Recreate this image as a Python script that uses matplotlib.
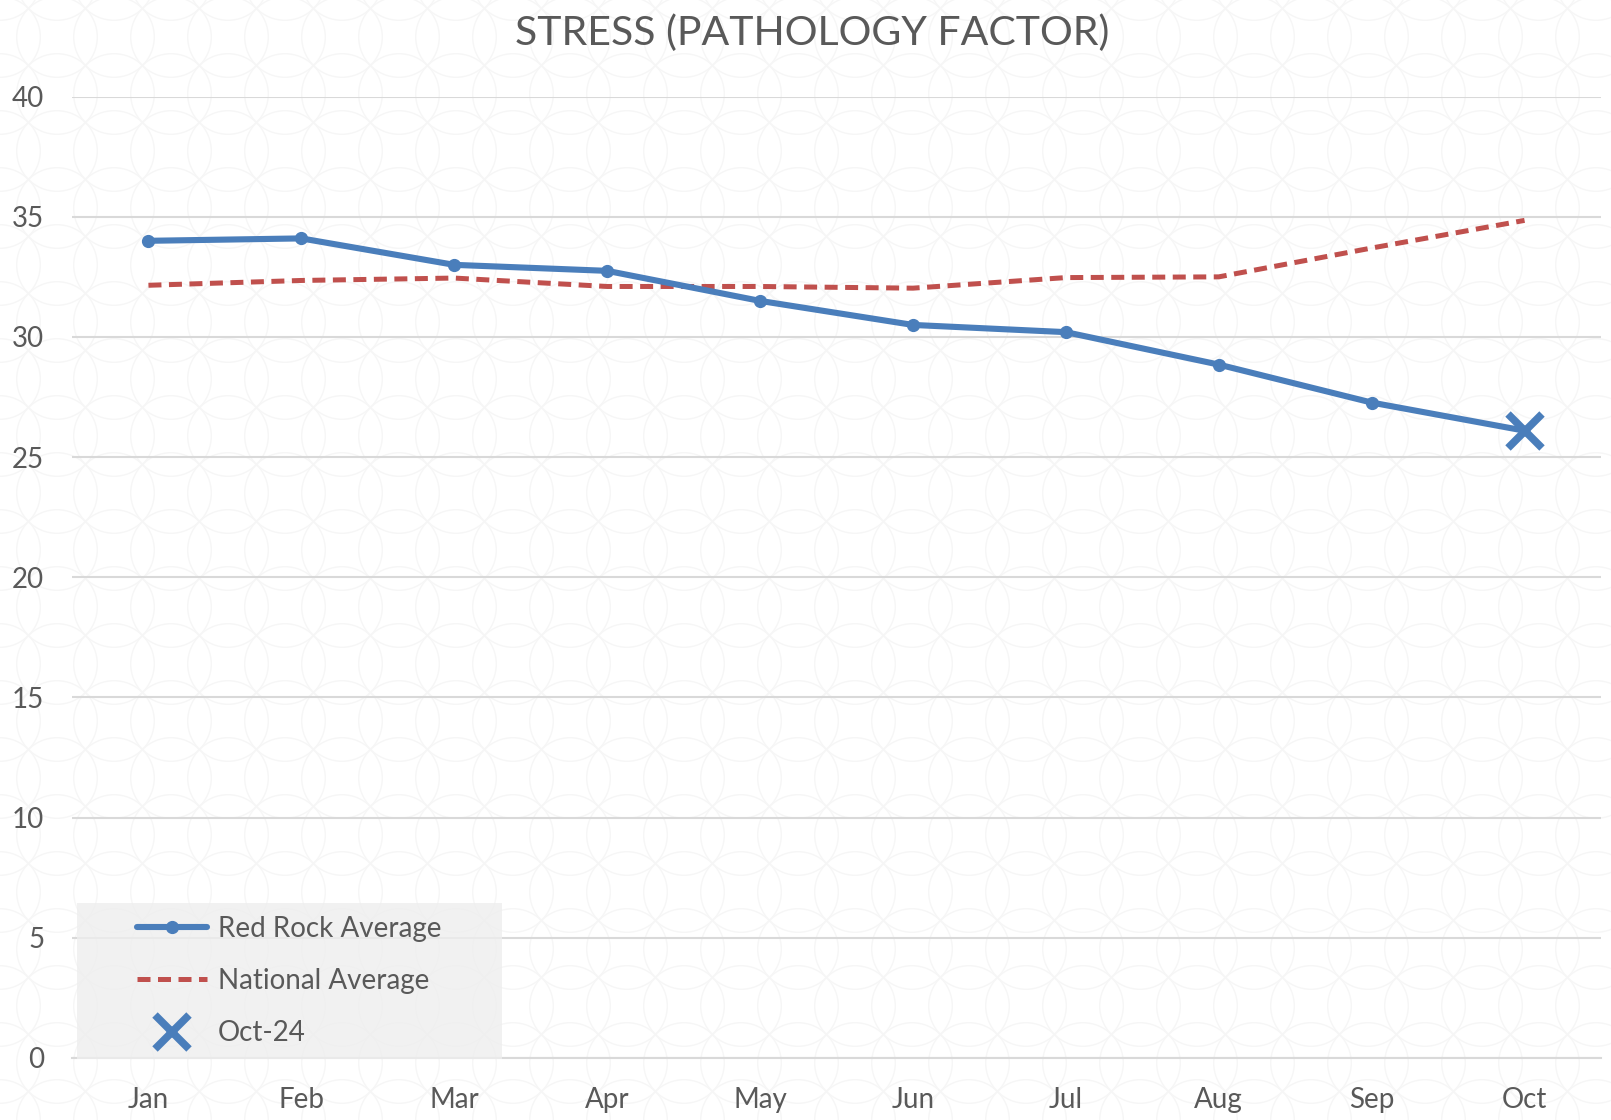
import numpy as np
import matplotlib
matplotlib.use("Agg")
import matplotlib.pyplot as plt
from matplotlib.collections import PatchCollection
from matplotlib.patches import Circle

plt.rcParams["font.family"] = ["Lato", "DejaVu Sans"]

MONTHS = ["Jan", "Feb", "Mar", "Apr", "May", "Jun", "Jul", "Aug", "Sep", "Oct"]
RED_ROCK = [34.0, 34.1, 33.0, 32.75, 31.5, 30.5, 30.2, 28.85, 27.27, 26.1]
NATIONAL = [32.15, 32.35, 32.45, 32.1, 32.1, 32.03, 32.47, 32.5, 33.7, 34.85]
OCT_24 = 26.1

col_blue = "#4A7EBB"
col_red = "#C0504D"
col_txt = "#595959"

W, H = 1611, 1120
fig = plt.figure(figsize=(W / 100, H / 100), dpi=100)

# faint interlocking-circle background texture
s = 57
circles = [Circle((x, y), s * 0.707) for x in np.arange(0, W + s, s)
           for y in np.arange(0, H + s, s)]
bg = PatchCollection(circles, facecolor="none", edgecolor="#f6f6f6",
                     linewidth=1.0, transform=None, zorder=0)
fig.add_artist(bg)

ax = fig.add_axes([72 / W, 1 - 1058 / H, (1601 - 72) / W, (1058 - 96.6) / H])
ax.set_facecolor("none")
x = np.arange(len(MONTHS))

ax.plot(x, RED_ROCK, color=col_blue, lw=4.4, marker="o", ms=8.5,
        markevery=list(range(len(MONTHS) - 1)), solid_capstyle="round",
        label="Red Rock Average", zorder=4)
ax.plot(x, NATIONAL, color=col_red, lw=3.6, ls=(0, (2.6, 1.5)),
        label="National Average", zorder=3)
ax.plot([x[-1]], [OCT_24], ls="none", marker="x", ms=24, mew=5.5,
        color=col_blue, label="Oct-24", zorder=5)

ax.set_xlim(-0.5, len(MONTHS) - 0.5)
ax.set_ylim(0, 40)
ax.set_yticks(np.arange(0, 41, 5))
ax.set_xticks(x)
ax.set_xticklabels(MONTHS)
ax.grid(axis="y", color="#d9d9d9", lw=1.5)
ax.set_axisbelow(True)
for sp in ["top", "right", "left"]:
    ax.spines[sp].set_visible(False)
ax.spines["bottom"].set_color("#d9d9d9")
ax.spines["bottom"].set_linewidth(1.5)
ax.tick_params(length=0, labelsize=20, colors=col_txt)
ax.tick_params(axis="x", pad=21)
ax.tick_params(axis="y", pad=20)

fig.text(812 / W, 1 - 33 / H, "STRESS (PATHOLOGY FACTOR)", ha="center",
         va="center", fontsize=29.5, color=col_txt)

leg = ax.legend(loc="upper left", bbox_to_anchor=(5 / (1601 - 72), 1 - (903 - 96.6) / (1058 - 96.6)),
                frameon=True, fontsize=20, labelcolor=col_txt,
                handlelength=2.5, handletextpad=0.4, labelspacing=0.95,
                borderpad=0.45, borderaxespad=0, fancybox=False)
leg.get_frame().set_facecolor("#eeeeee")
leg.get_frame().set_alpha(0.8)
leg.get_frame().set_edgecolor("none")
leg._legend_box.set_width(400)

fig.savefig("out.png", dpi=100)
